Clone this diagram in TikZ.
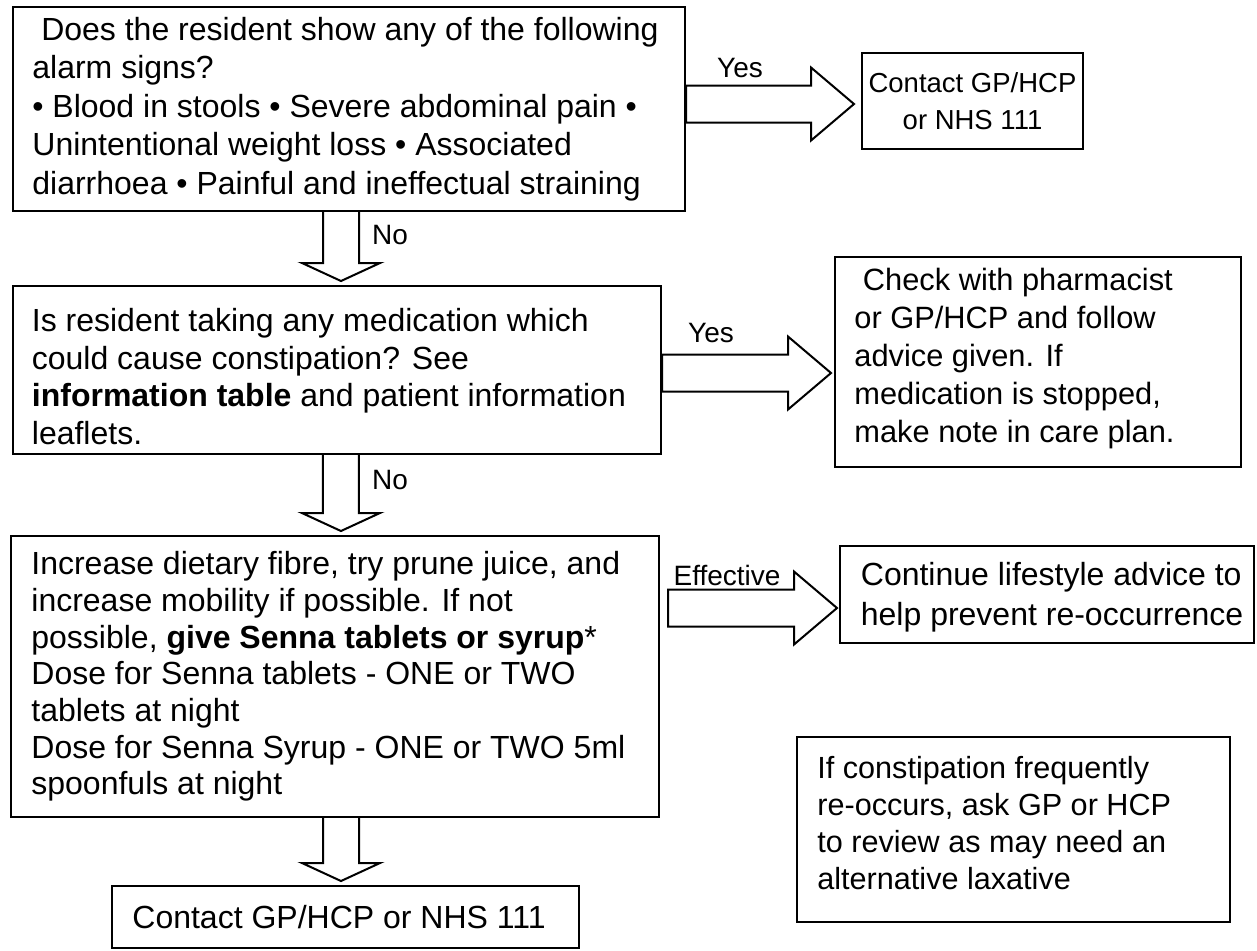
\documentclass[tikz,border=0pt]{standalone}
\usepackage{fontspec}
\setmainfont{Liberation Sans}
\usetikzlibrary{calc}

\begin{document}
\begin{tikzpicture}[x=0.5pt,y=-0.5pt,
  box/.style={draw,line width=1pt,inner sep=0pt},
  txt/.style={anchor=west,align=left,inner sep=0pt,font=\fontsize{16}{18.75}\selectfont},
  lbl/.style={inner sep=0pt,font=\fontsize{14}{16}\selectfont},
  % block arrow pointing right, from start point to target x
  rblock/.style={line width=1pt,to path={let \p1=(\tikztostart),\p2=(\tikztotarget) in
    (\x1,\y1+9.25pt) -- (\x2-21.5pt,\y1+9.25pt) -- (\x2-21.5pt,\y1+18.25pt) -- (\x2,\y1)
    -- (\x2-21.5pt,\y1-18.25pt) -- (\x2-21.5pt,\y1-9.25pt) -- (\x1,\y1-9.25pt) -- cycle}},
  % block arrow pointing down, from start point to target y
  dblock/.style={line width=1pt,to path={let \p1=(\tikztostart),\p2=(\tikztotarget) in
    (\x1-9pt,\y1) -- (\x1-9pt,\y2+11pt) -- (\x1-19.5pt,\y2+11pt) -- (\x1,\y2+2pt)
    -- (\x1+19.5pt,\y2+11pt) -- (\x1+9pt,\y2+11pt) -- (\x1+9pt,\y1)}}]
\useasboundingbox (0,0) rectangle (1257,950);

% boxes
\node[box,minimum width=110.5pt,minimum height=48pt] (gp1) at (972.5,101) {};
\node[box,minimum width=336pt,minimum height=102pt] (alarm) at (349,109) {};
\node[box,minimum width=324.25pt,minimum height=84pt] (meds) at (336.75,370) {};
\node[box,minimum width=203pt,minimum height=105pt] (pharm) at (1038,362) {};
\node[box,minimum width=324pt,minimum height=140.5pt] (diet) at (335,676.5) {};
\node[box,minimum width=207.25pt,minimum height=48.5pt] (life) at (1046.75,594.5) {};
\node[box,minimum width=216.5pt,minimum height=92.5pt] (review) at (1013.5,829.5) {};
\node[box,minimum width=233.5pt,minimum height=31pt] (gp2) at (345.5,917) {};

% texts
\node[txt,font=\fontsize{16}{19.25}\selectfont] (alarm-t) at ([xshift=10pt]alarm.west)
  {~Does the resident show any of the following\\alarm signs?\\%
   • Blood in stools • Severe abdominal pain •\\Unintentional weight loss • Associated\\%
   diarrhoea • Painful and ineffectual straining};
\node[txt,anchor=center,align=center,font=\fontsize{13.75}{18.5}\selectfont] (gp1-t) at (gp1.center)
  {Contact GP/HCP\\or NHS 111};
\node[txt] (meds-t) at ([xshift=10pt,yshift=-3.25pt]meds.west)
  {Is resident taking any medication which\\could cause constipation? See\\%
   \textbf{information table} and patient information\\leaflets.};
\node[txt,font=\fontsize{15.4}{19}\selectfont] (pharm-t) at ([xshift=10pt,yshift=1.5pt]pharm.west)
  {~Check with pharmacist\\or GP/HCP and follow\\advice given. If\\%
   medication is stopped,\\make note in care plan.};
\node[txt,font=\fontsize{16}{18.35}\selectfont] (diet-t) at ([xshift=10.5pt]diet.west)
  {Increase dietary fibre, try prune juice, and\\increase mobility if possible. If not\\%
   possible, \textbf{give Senna tablets or syrup}*\\Dose for Senna tablets - ONE or TWO\\%
   tablets at night\\Dose for Senna Syrup - ONE or TWO 5ml\\spoonfuls at night};
\node[txt,font=\fontsize{16}{20}\selectfont] (life-t) at ([xshift=11pt,yshift=-1.5pt]life.west)
  {Continue lifestyle advice to\\help prevent re-occurrence};
\node[txt,font=\fontsize{15.3}{18.35}\selectfont] (review-t) at ([xshift=10.5pt,yshift=3.25pt]review.west)
  {If constipation frequently\\re-occurs, ask GP or HCP\\to review as may need an\\%
   alternative laxative};
\node[txt] (gp2-t) at ([xshift=10.5pt]gp2.west) {Contact GP/HCP or NHS 111};

% labels
\node[lbl] (yes1) at (740,68) {Yes};
\node[lbl] (no1) at (390,235) {No};
\node[lbl] (yes2) at (711,333) {Yes};
\node[lbl] (no2) at (390,480) {No};
\node[lbl] (eff) at (727,575) {Effective};

% arrows
\draw[rblock] ([yshift=2.5pt]alarm.east) to ([xshift=-3.5pt]gp1.west);
\draw[rblock] ([yshift=-1.5pt]meds.east) to ([xshift=-1.5pt]pharm.west);
\draw[rblock] ([xshift=4pt,yshift=34.25pt]diet.east) to ([xshift=-0.75pt]life.west);
\draw[dblock] ([xshift=-4pt]alarm.south) to (meds.north);
\draw[dblock] ([xshift=2.1pt]meds.south) to (diet.north);
\draw[dblock] ([xshift=3pt]diet.south) to (gp2.north);
\end{tikzpicture}
\end{document}
